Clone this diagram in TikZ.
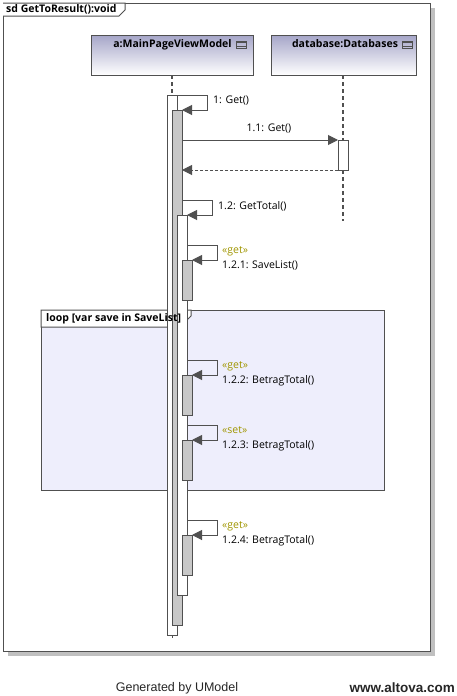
\documentclass[tikz,border=0pt]{standalone}
\usepackage{fontspec}
\setmainfont{Open Sans}
\newfontfamily\footfont{Liberation Sans}
\usetikzlibrary{arrows.meta}
\definecolor{lg}{RGB}{80,80,80}
\definecolor{shadowgray}{RGB}{192,192,192}
\definecolor{actgray}{RGB}{200,200,200}
\definecolor{loopfill}{RGB}{238,238,252}
\definecolor{headtop}{RGB}{165,165,200}
\definecolor{stereo}{RGB}{160,150,0}
\newcommand\dfont{\fontsize{10.5pt}{12pt}\selectfont}
\tikzset{
  ln/.style={draw=lg, line width=1pt},
  box/.style={ln, anchor=north west, inner sep=0pt, outer sep=0pt},
  actw/.style={box, fill=white, minimum width=10pt},
  actg/.style={box, fill=actgray, minimum width=10pt},
  headbox/.style={box, minimum height=40pt, top color=headtop, bottom color=white},
  lifeline/.style={draw=lg, line width=2pt, dash pattern=on 4pt off 3pt},
  msg/.style={draw=lg, line width=1pt, -{Triangle[length=10pt,width=10pt]}},
  ret/.style={msg, dash pattern=on 3pt off 2pt},
  lbl/.style={anchor=west, inner sep=0pt, font=\dfont, text height=1.5ex, text depth=.25ex},
  blbl/.style={lbl, font=\dfont\bfseries},
  stlbl/.style={lbl, text=stereo},
  icon/.style={draw=lg, line width=0.8pt, minimum width=10pt, minimum height=7pt, inner sep=0pt, anchor=west,
    path picture={\draw[lg, line width=0.8pt] ([yshift=2.33pt]path picture bounding box.west) -- ([yshift=2.33pt]path picture bounding box.east)
      ([yshift=-2.33pt]path picture bounding box.west) -- ([yshift=-2.33pt]path picture bounding box.east);}},
  foot/.style={inner sep=0pt, font=\footfont\fontsize{12.5pt}{14pt}\selectfont, text=black!85}
}
\begin{document}
\begin{tikzpicture}[x=1pt,y=-1pt]
\useasboundingbox (0,0) rectangle (457,696);
\fill[white] (0,0) rectangle (457,696);
% frame with shadow
\node[anchor=north west, inner sep=0pt, fill=shadowgray, minimum width=427pt, minimum height=648pt] (shadow) at (8,8) {};
\node[box, fill=white, minimum width=427pt, minimum height=648pt] (frame) at (3,3) {};
\draw[ln, fill=white] (frame.north west) -- (125,3) -- (125,10) -- (119,16) -- (frame.north west |- 0,16);
\node[blbl] (title) at (6,9.5) {sd GetToResult():void};
% lifeline heads
\node[headbox, minimum width=162pt] (HA) at (91,35) {};
\node[headbox, minimum width=145pt] (HD) at (271,35) {};
\node[blbl, anchor=center] (tA) at (172.5,44.5) {a:MainPageViewModel};
\node[icon] (iA) at ([xshift=4pt]tA.east) {};
\node[blbl, anchor=center] (tD) at (345,44.5) {database:Databases};
\node[icon] (iD) at ([xshift=4pt]tD.east) {};
% loop fragment
\node[box, fill=loopfill, minimum width=343pt, minimum height=180pt] (loop) at (41,310) {};
\draw[ln, fill=white] (loop.north west) -- ++(150,0) -- ++(0,6) -- ++(-11,11) -- (loop.north west |- 0,327) -- cycle;
% activations
\node[actw, minimum height=540pt] (A0) at (167,95) {};
\node[actg, minimum height=515pt] (A1) at (172,110) {};
\node[actw, minimum height=380pt] (A2) at (177,215) {};
\node[actg, minimum height=40pt] (B1) at (182,260) {};
\node[actg, minimum height=40pt] (B2) at (182,375) {};
\node[actg, minimum height=40pt] (B3) at (182,440) {};
\node[actg, minimum height=40pt] (B4) at (182,535) {};
\node[actw, minimum height=30pt] (D1) at (338,140) {};
\node[blbl] (looplbl) at (46,318.5) {loop [var save in SaveList]};
% lifelines
\coordinate (aEnd) at (172,637.5);
\coordinate (dEnd) at (343,221);
\draw[lifeline] (A0.north |- HA.south) -- (A0.north);
\draw[ln] (A0.south) -- (aEnd);
\draw[lifeline] (D1.north |- HD.south) -- (D1.north);
\draw[lifeline] (D1.south) -- (dEnd);
% messages
\coordinate (s12) at (182,200);
\coordinate (s121) at (187,245);
\coordinate (s122) at (187,360);
\coordinate (s123) at (187,425);
\coordinate (s124) at (187,520);
\draw[msg] (A0.north east) -- ++(30,0) |- (A1.north east);
\draw[msg] (A1.east |- D1.north west) -- (D1.north west);
\draw[ret] (D1.south west) -- (A1.east |- D1.south west);
\draw[msg] (s12) -- ++(30,0) |- (A2.north east);
\draw[msg] (s121) -- ++(30,0) |- (B1.north east);
\draw[msg] (s122) -- ++(30,0) |- (B2.north east);
\draw[msg] (s123) -- ++(30,0) |- (B3.north east);
\draw[msg] (s124) -- ++(30,0) |- (B4.north east);
% labels
\node[lbl] (l1) at (213,100) {1: Get()};
\node[lbl, anchor=center] (l11) at (269,128) {1.1: Get()};
\node[lbl] (l12) at (218,206) {1.2: GetTotal()};
\node[stlbl] (st121) at (222,250.5) {«get»};
\node[lbl] (l121) at (222,265) {1.2.1: SaveList()};
\node[stlbl] (st122) at (222,365.5) {«get»};
\node[lbl] (l122) at (222,380) {1.2.2: BetragTotal()};
\node[stlbl] (st123) at (222,430.5) {«set»};
\node[lbl] (l123) at (222,445) {1.2.3: BetragTotal()};
\node[stlbl] (st124) at (222,525.5) {«get»};
\node[lbl] (l124) at (222,540) {1.2.4: BetragTotal()};
% footer
\node[foot] (gen) at (177,688) {Generated by UModel};
\node[foot, font=\footfont\bfseries\fontsize{13.5pt}{15pt}\selectfont, anchor=east] (www) at (455,688) {www.altova.com};
\end{tikzpicture}
\end{document}
